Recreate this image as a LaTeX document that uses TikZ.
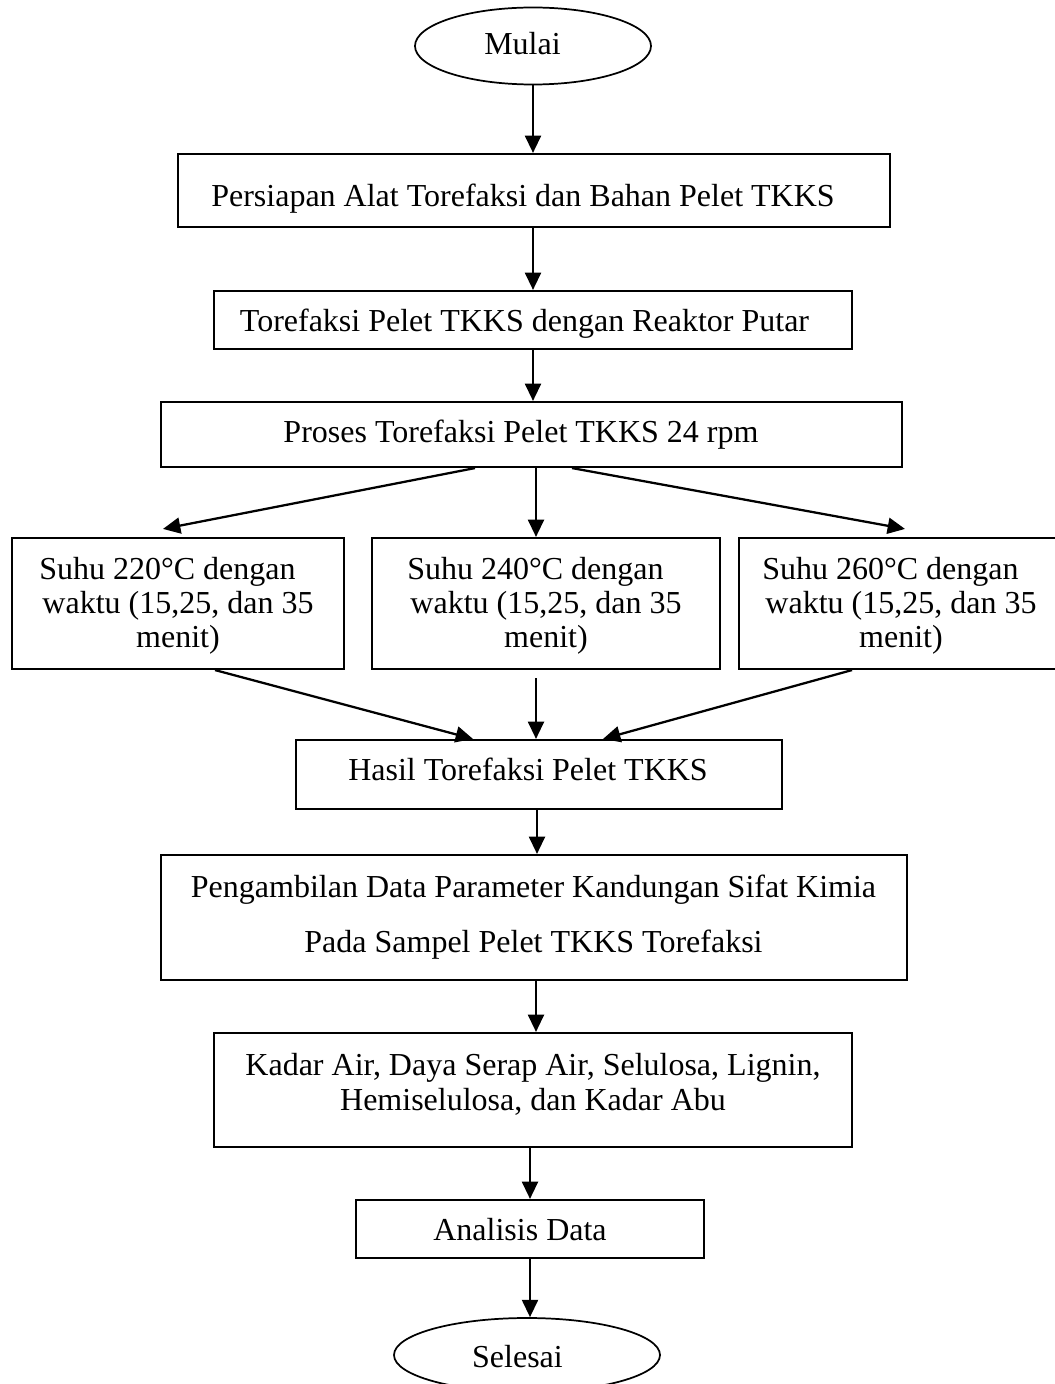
\documentclass[tikz,border=0pt]{standalone}
\usepackage{fontspec}
\setmainfont{Liberation Serif}
\usetikzlibrary{arrows.meta,shapes.geometric,calc}
\begin{document}
\begin{tikzpicture}[x=0.75pt,y=-0.75pt,
  box/.style={draw, line width=1.6pt, inner sep=0pt, rectangle},
  oval/.style={draw, line width=1.3pt, inner sep=0pt, ellipse},
  txt/.style={font=\fontsize{24}{25.5}\selectfont, inner sep=0pt, anchor=base},
  arr/.style={line width=1.7pt, -{Triangle[length=13pt,width=12pt]}}]
\clip (0,0) rectangle (1055,1384);
% shapes
\node[oval, minimum width=177pt, minimum height=57.75pt] (start) at (533,46) {};
\node[box, minimum width=534pt, minimum height=54.75pt] (b1) at (534,190.5) {};
\node[box, minimum width=478.5pt, minimum height=43.5pt] (b2) at (533,320) {};
\node[box, minimum width=555.75pt, minimum height=48.75pt] (b3) at (531.5,434.5) {};
\node[box, minimum width=249pt, minimum height=98.25pt] (b4) at (178,603.5) {};
\node[box, minimum width=261pt, minimum height=98.25pt] (b5) at (546,603.5) {};
\node[box, minimum width=243pt, minimum height=98.25pt] (b6) at (901,603.5) {};
\node[box, minimum width=364.5pt, minimum height=51.75pt] (b7) at (539,774.5) {};
\node[box, minimum width=559.5pt, minimum height=93.75pt] (b8) at (534,917.5) {};
\node[box, minimum width=478.5pt, minimum height=85.5pt] (b9) at (533,1090) {};
\node[box, minimum width=261pt, minimum height=43.5pt] (b10) at (530,1229) {};
\node[oval, minimum width=199.5pt, minimum height=55.5pt] (end) at (527,1355) {};
% texts
\node[txt] (t0) at (522.5,55) {Mulai};
\node[txt] (t1) at (523,206) {Persiapan Alat Torefaksi dan Bahan Pelet TKKS};
\node[txt] (t2) at (524.5,331) {Torefaksi Pelet TKKS dengan Reaktor Putar};
\node[txt] (t3) at (521,442) {Proses Torefaksi Pelet TKKS 24 rpm};
\node[txt] (t4) at (178,579) {\begin{tabular}[t]{@{}c@{}}Suhu 220°C dengan\rule{15.8pt}{0pt}\\ waktu (15,25, dan 35\\ menit)\end{tabular}};
\node[txt] (t5) at (546,579) {\begin{tabular}[t]{@{}c@{}}Suhu 240°C dengan\rule{15.8pt}{0pt}\\ waktu (15,25, dan 35\\ menit)\end{tabular}};
\node[txt] (t6) at (901,579) {\begin{tabular}[t]{@{}c@{}}Suhu 260°C dengan\rule{15.8pt}{0pt}\\ waktu (15,25, dan 35\\ menit)\end{tabular}};
\node[txt] (t7) at (528,780) {Hasil Torefaksi Pelet TKKS};
\node[txt] (t8) at (533.5,897) {\begin{tabular}[t]{@{}c@{}}Pengambilan Data Parameter Kandungan Sifat Kimia\\[15.75pt] Pada Sampel Pelet TKKS Torefaksi\end{tabular}};
\node[txt] (t9) at (533,1075) {\begin{tabular}[t]{@{}c@{}}Kadar Air, Daya Serap Air, Selulosa, Lignin,\\[0.75pt] Hemiselulosa, dan Kadar Abu\end{tabular}};
\node[txt] (t10) at (520,1240) {Analisis Data};
\node[txt] (t11) at (517.5,1367) {Selesai};
% connectors
\draw[arr] (start.south) -- (start.south |- b1.north);
\draw[arr] (b2.north |- b1.south) -- (b2.north);
\draw[arr] (b2.south) -- (b2.south |- b3.north);
\draw[arr] ($(b3.south)+(-56.5,0)$) -- ($(b4.north)+(-15,-8)$);
\draw[arr] ($(b3.south)+(4.5,0)$) -- ($(b5.north)+(-10,0)$);
\draw[arr] ($(b3.south)+(40.5,0)$) -- ($(b6.north)+(4,-8)$);
\draw[arr] ($(b4.south)+(37,0)$) -- ($(b7.north)+(-66,0)$);
\draw[arr] ($(b5.south)+(-10,8)$) -- ($(b7.north)+(-3,0)$);
\draw[arr] ($(b6.south)+(-49,0)$) -- ($(b7.north)+(64,0)$);
\draw[arr] ($(b7.south)+(-2,0)$) -- ($(b8.north)+(3,0)$);
\draw[arr] ($(b8.south)+(2,0)$) -- ($(b9.north)+(3,0)$);
\draw[arr] (b10.north |- b9.south) -- (b10.north);
\draw[arr] (b10.south) -- ($(end.north)+(3,0)$);
\end{tikzpicture}
\end{document}
